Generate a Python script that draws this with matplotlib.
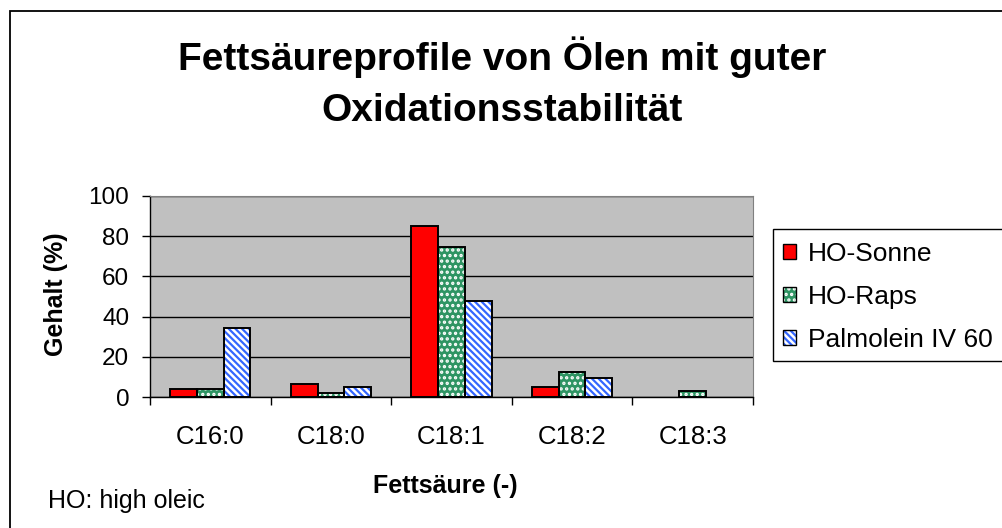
import numpy as np
import matplotlib
matplotlib.use("Agg")
import matplotlib.pyplot as plt
from matplotlib.patches import Rectangle, Patch

plt.rcParams['font.family'] = ['Liberation Sans', 'DejaVu Sans']
plt.rcParams['hatch.linewidth'] = 1.6

# data
categories = ["C16:0", "C18:0", "C18:1", "C18:2", "C18:3"]
series_names = ["HO-Sonne", "HO-Raps", "Palmolein IV 60"]
ho_sonne = [4.0, 6.5, 85.3, 5.1, 0.0]
ho_raps = [4.0, 2.2, 74.7, 12.6, 3.1]
palmolein = [34.4, 5.1, 47.8, 9.3, 0.0]

W, H = 1002, 528
fig = plt.figure(figsize=(W / 100, H / 100), dpi=100)

# outer chart frame (cut off at right/bottom like the reference)
fig.patches.append(Rectangle((9.5 / W, -0.05), 1.1, 1.05 - 11.5 / H,
                             transform=fig.transFigure, fill=False,
                             edgecolor='black', linewidth=1.3))

ax = fig.add_axes([150 / W, (H - 397) / H, 603 / W, 201 / H])
ax.set_facecolor('#C0C0C0')

x = np.arange(len(categories))
bw = 0.222
styles = [
    dict(face='#FF0000', hatch=None, hcol=None),
    dict(face='#2E9463', hatch='...', hcol='white'),
    dict(face='white', hatch='\\\\\\\\\\', hcol='#3366FF'),
]
handles = []
for i, (vals, st) in enumerate(zip([ho_sonne, ho_raps, palmolein], styles)):
    pos = x + (i - 1) * bw
    if st['hatch']:
        ax.bar(pos, vals, bw, color=st['face'], hatch=st['hatch'],
               edgecolor=st['hcol'], linewidth=0, zorder=3)
    else:
        ax.bar(pos, vals, bw, color=st['face'], linewidth=0, zorder=3)
    edge = ['black' if v > 0 else 'none' for v in vals]
    ax.bar(pos, vals, bw, fill=False, edgecolor=edge, linewidth=1.4, zorder=4)
    p1 = Patch(facecolor=st['face'], hatch=st['hatch'],
               edgecolor=st['hcol'] if st['hcol'] else st['face'], linewidth=0)
    p2 = Patch(fill=False, edgecolor='black', linewidth=1.0)
    handles.append((p1, p2))

ax.set_xlim(-0.5, len(categories) - 0.5)
ax.set_ylim(0, 100)
ax.set_yticks(range(0, 101, 20))
ax.yaxis.grid(True, color='black', linewidth=1.0)
ax.set_axisbelow(True)

ax.set_xticks(np.arange(-0.5, len(categories), 1.0))
ax.set_xticklabels([])
ax.set_xticks(x, minor=True)
ax.set_xticklabels(categories, minor=True)
ax.tick_params(axis='x', which='minor', length=0, pad=20, labelsize=18.5)
ax.tick_params(axis='x', which='major', length=6, width=1, direction='out')
ax.tick_params(axis='y', length=6, width=1, direction='out', pad=9, labelsize=17.5)

for s in ['top', 'right']:
    ax.spines[s].set_color('#808080')
for s in ['left', 'bottom']:
    ax.spines[s].set_color('black')
    ax.spines[s].set_linewidth(1.0)

# titles and labels
fig.text(502 / W, 1 - 70 / H, "Fettsäureprofile von Ölen mit guter",
         ha='center', va='baseline', fontsize=28, fontweight='bold')
fig.text(502 / W, 1 - 121 / H, "Oxidationsstabilität",
         ha='center', va='baseline', fontsize=28, fontweight='bold')
fig.text(56 / W, 1 - 294 / H, "Gehalt (%)", rotation=90, ha='center',
         va='center', fontsize=18, fontweight='bold')
fig.text(445 / W, 1 - 493 / H, "Fettsäure (-)", ha='center', va='baseline',
         fontsize=18, fontweight='bold')
fig.text(48 / W, 1 - 508 / H, "HO: high oleic", ha='left', va='baseline',
         fontsize=18)

# legend box (runs past the right edge in the reference)
fig.patches.append(Rectangle((773 / W, 1 - 361 / H), 0.3, 132 / H,
                             transform=fig.transFigure, fill=True,
                             facecolor='white', edgecolor='black',
                             linewidth=1.0))
leg = fig.legend(handles, series_names, loc='upper left',
                 bbox_to_anchor=(776 / W, 1 - 235 / H),
                 bbox_transform=fig.transFigure, fontsize=19,
                 frameon=False,
                 handlelength=0.5, handleheight=0.5, handletextpad=0.45,
                 labelspacing=0.72, borderpad=0.25, borderaxespad=0)

fig.savefig("out.png", dpi=100)
